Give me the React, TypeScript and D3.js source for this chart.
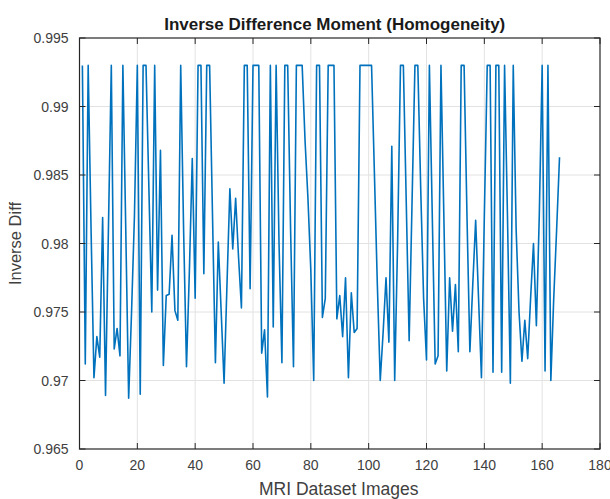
import React from 'react';
import * as d3 from 'd3';

const homogeneity: number[] = [
  0.993, 0.9712, 0.993, 0.981, 0.9702, 0.9732, 0.9717, 0.9819, 0.9689, 0.981,
  0.993, 0.9723, 0.9738, 0.9718, 0.993, 0.981, 0.9687, 0.975, 0.982, 0.993,
  0.969, 0.993, 0.993, 0.984, 0.975, 0.993, 0.9766, 0.9868, 0.9711, 0.9762,
  0.9763, 0.9806, 0.9751, 0.9744, 0.993, 0.981, 0.971, 0.978, 0.9862, 0.976,
  0.993, 0.993, 0.9778, 0.993, 0.993, 0.982, 0.9713, 0.9801, 0.975, 0.9698,
  0.977, 0.984, 0.9796, 0.9833, 0.979, 0.9753, 0.993, 0.993, 0.9767, 0.993,
  0.993, 0.993, 0.972, 0.9737, 0.9688, 0.993, 0.9739, 0.993, 0.98, 0.9713,
  0.993, 0.993, 0.981, 0.971, 0.993, 0.993, 0.993, 0.9875, 0.9833, 0.978,
  0.97, 0.993, 0.993, 0.9746, 0.976, 0.993, 0.993, 0.993, 0.9745, 0.9762,
  0.9732, 0.9775, 0.9702, 0.9764, 0.9735, 0.9738, 0.993, 0.993, 0.993, 0.993,
  0.993, 0.985, 0.977, 0.97, 0.9735, 0.9775, 0.9728, 0.9871, 0.97, 0.98,
  0.993, 0.993, 0.983, 0.9729, 0.983, 0.993, 0.993, 0.984, 0.976, 0.9715,
  0.993, 0.982, 0.9712, 0.9718, 0.993, 0.982, 0.9707, 0.9775, 0.9736, 0.977,
  0.9721, 0.993, 0.993, 0.982, 0.9721, 0.977, 0.9817, 0.976, 0.9702, 0.982,
  0.993, 0.993, 0.9706, 0.993, 0.993, 0.9706, 0.993, 0.982, 0.9698, 0.993,
  0.981, 0.975, 0.9714, 0.9744, 0.9716, 0.976, 0.98, 0.974, 0.982, 0.993,
  0.9707, 0.993, 0.97, 0.976, 0.981, 0.9863,
];

const xTickValues = [0, 20, 40, 60, 80, 100, 120, 140, 160, 180];
const xTickLabels = ['0', '20', '40', '60', '80', '100', '120', '140', '160', '180'];
const yTickValues = [0.965, 0.97, 0.975, 0.98, 0.985, 0.99, 0.995];
const yTickLabels = ['0.965', '0.97', '0.975', '0.98', '0.985', '0.99', '0.995'];

const titleText = 'Inverse Difference Moment (Homogeneity)';
const xLabelText = 'MRI Dataset Images';
const yLabelText = 'Inverse Diff';

const W = 610;
const H = 499;
const plot = { left: 79.5, right: 600, top: 38, bottom: 449 };
const font = '"Liberation Sans", Arial, Helvetica, sans-serif';
const axisColor = '#262626';
const textColor = '#404040';

export default function App() {
  const x = d3.scaleLinear().domain([0, 180]).range([plot.left, plot.right]);
  const y = d3.scaleLinear().domain([0.965, 0.995]).range([plot.bottom, plot.top]);
  const path = d3
    .line<number>()
    .x((_, i) => x(i + 1))
    .y((d) => y(d))(homogeneity) || '';
  const tickLen = 6;

  return (
    <svg
      width={W}
      height={H}
      viewBox={`0 0 ${W} ${H}`}
      style={{ position: 'absolute', left: 0, top: 0, background: '#ffffff' }}
    >
      <rect x={0} y={0} width={W} height={H} fill="#ffffff" />
      {/* grid */}
      <g stroke="#e2e2e2" strokeWidth={1}>
        {xTickValues.slice(1, -1).map((t) => (
          <line key={'gx' + t} x1={x(t)} x2={x(t)} y1={plot.top} y2={plot.bottom} />
        ))}
        {yTickValues.slice(1, -1).map((t) => (
          <line key={'gy' + t} x1={plot.left} x2={plot.right} y1={y(t)} y2={y(t)} />
        ))}
      </g>
      {/* data line */}
      <path d={path} fill="none" stroke="#0072BD" strokeWidth={1.6} strokeLinejoin="round" />
      {/* box */}
      <rect
        x={plot.left}
        y={plot.top}
        width={plot.right - plot.left}
        height={plot.bottom - plot.top}
        fill="none"
        stroke={axisColor}
        strokeWidth={1.2}
      />
      {/* ticks */}
      <g stroke={axisColor} strokeWidth={1}>
        {xTickValues.map((t) => (
          <g key={'tx' + t}>
            <line x1={x(t)} x2={x(t)} y1={plot.bottom} y2={plot.bottom - tickLen} />
            <line x1={x(t)} x2={x(t)} y1={plot.top} y2={plot.top + tickLen} />
          </g>
        ))}
        {yTickValues.map((t) => (
          <g key={'ty' + t}>
            <line x1={plot.left} x2={plot.left + tickLen} y1={y(t)} y2={y(t)} />
            <line x1={plot.right} x2={plot.right - tickLen} y1={y(t)} y2={y(t)} />
          </g>
        ))}
      </g>
      {/* tick labels */}
      <g fontFamily={font} fontSize={14} fill={textColor}>
        {xTickValues.map((t, i) => (
          <text key={'lx' + t} x={x(t)} y={plot.bottom + 21} textAnchor="middle">
            {xTickLabels[i]}
          </text>
        ))}
        {yTickValues.map((t, i) => (
          <text key={'ly' + t} x={plot.left - 11} y={y(t) + 5} textAnchor="end">
            {yTickLabels[i]}
          </text>
        ))}
      </g>
      {/* title */}
      <text
        x={(plot.left + plot.right) / 2 - 5}
        y={30}
        textAnchor="middle"
        fontFamily={font}
        fontWeight="bold"
        fontSize={17}
        fill="#1a1a1a"
      >
        {titleText}
      </text>
      {/* x label */}
      <text
        x={(plot.left + plot.right) / 2 - 1}
        y={495}
        textAnchor="middle"
        fontFamily={font}
        fontSize={17.5}
        fill={textColor}
      >
        {xLabelText}
      </text>
      {/* y label */}
      <text
        transform={`translate(21, ${(plot.top + plot.bottom) / 2}) rotate(-90)`}
        textAnchor="middle"
        fontFamily={font}
        fontSize={16.5}
        fill={textColor}
      >
        {yLabelText}
      </text>
    </svg>
  );
}
